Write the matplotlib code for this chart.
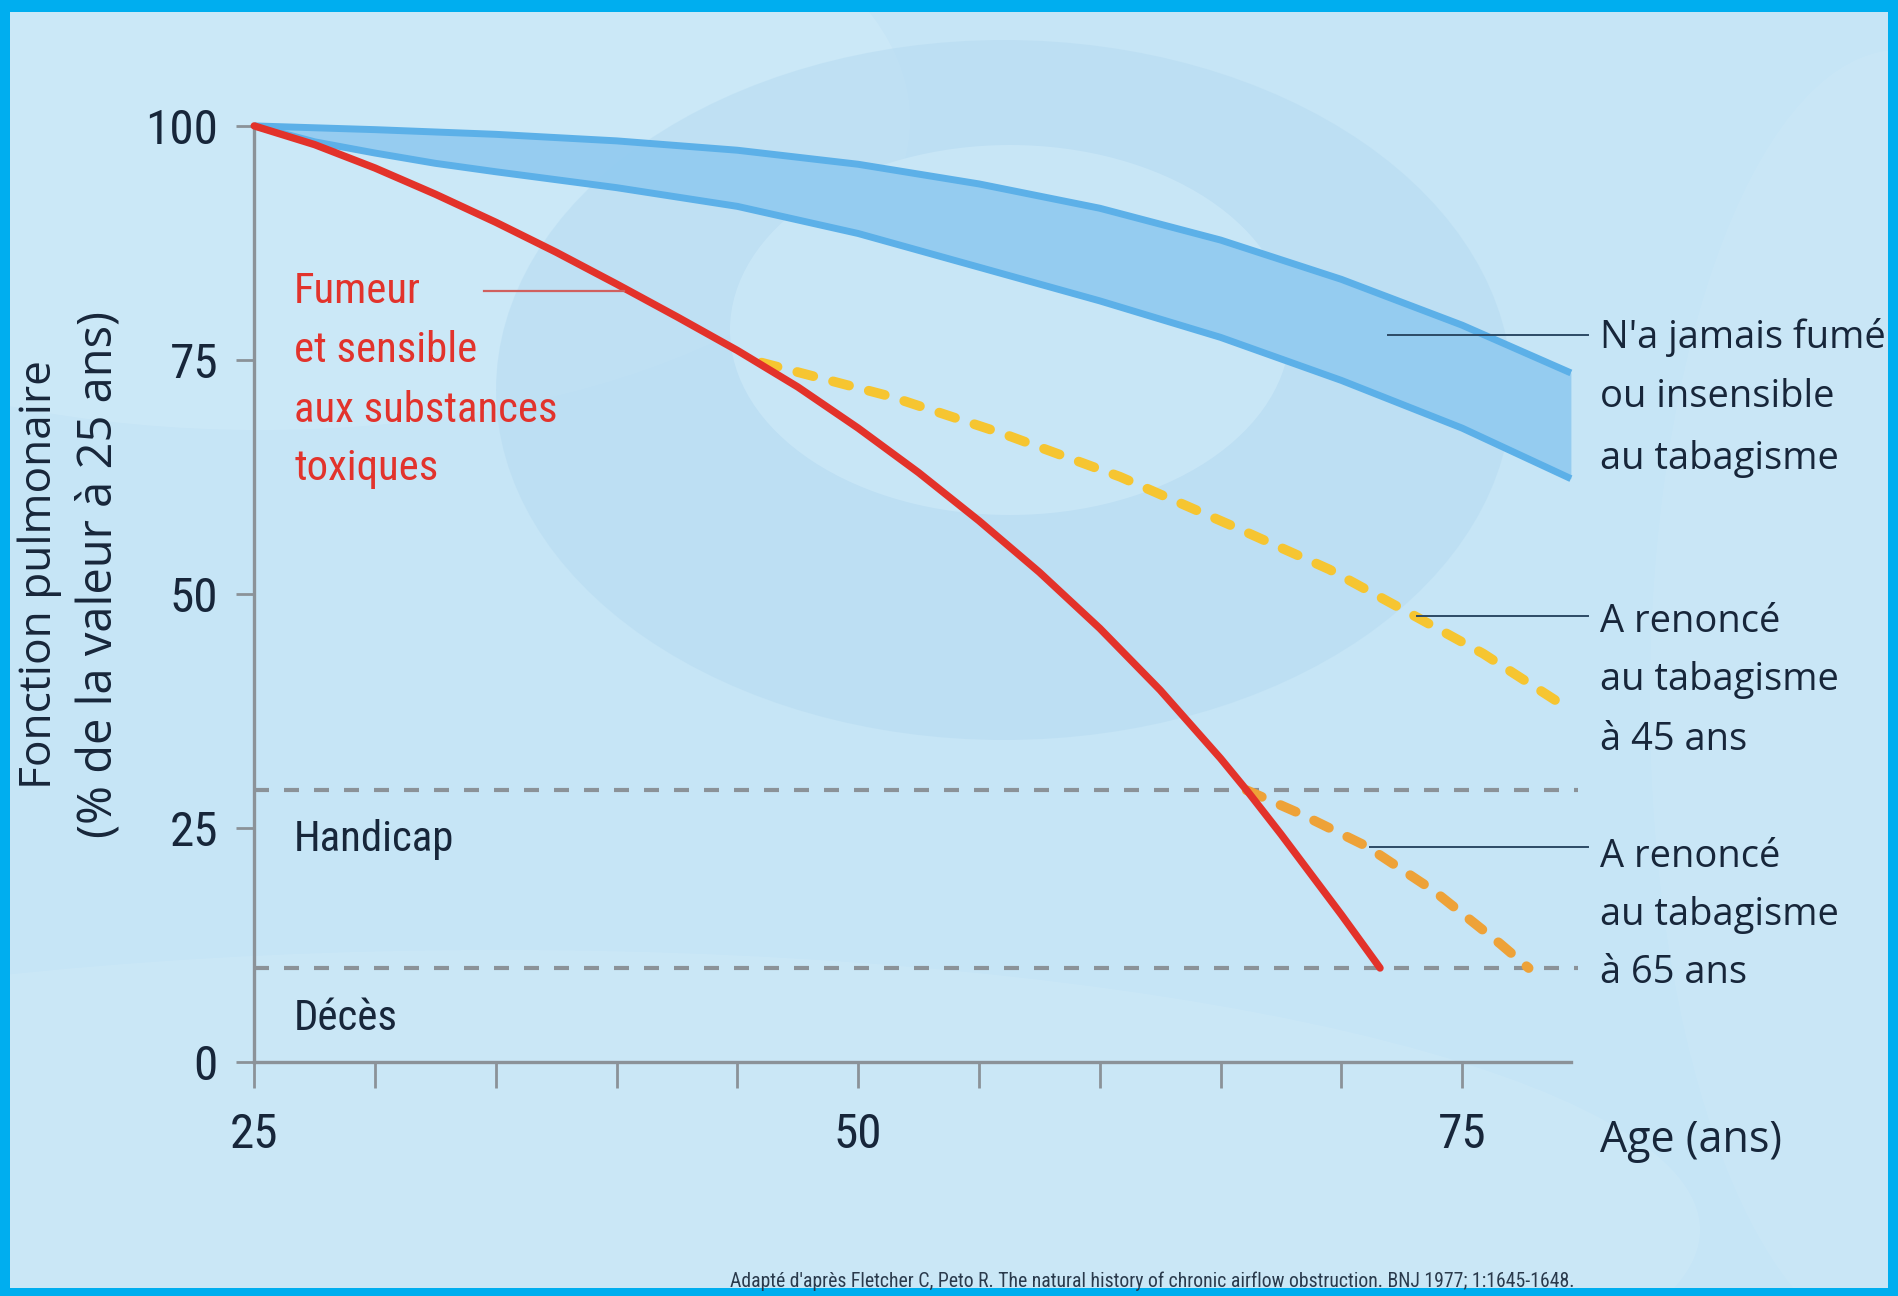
import os
import matplotlib
matplotlib.use('Agg')
import matplotlib.pyplot as plt
from matplotlib import font_manager as fm
from matplotlib.font_manager import FontProperties
from matplotlib.patches import Ellipse, Rectangle

W, H, DPI = 1898, 1296, 100

# ---------------- data ----------------
ages_never = [25, 27.5, 30, 32.5, 35, 40, 45, 50, 55, 60, 65, 70, 75, 79.5]
never_upper = [100, 99.8, 99.6, 99.35, 99.1, 98.4, 97.4, 95.9, 93.8, 91.2, 87.8,
               83.6, 78.7, 73.6]
never_lower = [100, 98.3, 97.1, 96.0, 95.1, 93.4, 91.4, 88.5, 84.9, 81.3, 77.4,
               72.8, 67.7, 62.3]

ages_smoker = [25, 27.5, 30, 32.5, 35, 37.5, 40, 42.5, 45, 47.5, 50, 52.5, 55,
               57.5, 60, 62.5, 65, 66.08, 67.5, 70, 71.6]
smoker = [100, 98.0, 95.5, 92.7, 89.7, 86.5, 83.1, 79.6, 76.0, 72.1, 67.7, 62.95,
          57.8, 52.3, 46.3, 39.7, 32.4, 29.0, 24.3, 15.7, 10]

ages_quit45 = [46.0, 51.32, 56.0, 60.84, 65.53, 69.5, 73.12, 75.87, 79.05]
quit45 = [74.7, 71.1, 67.1, 62.5, 57.2, 52.6, 47.5, 43.6, 38.3]

ages_quit65 = [66.08, 68.29, 71.05, 73.8, 76.57, 77.75]
quit65 = [29.0, 26.5, 23.0, 18.3, 12.6, 10]

handicap_level = 29
death_level = 10

x_ticks = [25, 30, 35, 40, 45, 50, 55, 60, 65, 70, 75]
x_tick_labels = ['25', '', '', '', '', '50', '', '', '', '', '75']
y_ticks = [0, 25, 50, 75, 100]
y_tick_labels = ['0', '25', '50', '75', '100']

label_never = ["N'a jamais fumé", "ou insensible", "au tabagisme"]
label_q45 = ["A renoncé", "au tabagisme", "à 45 ans"]
label_q65 = ["A renoncé", "au tabagisme", "à 65 ans"]
label_smoker = ["Fumeur", "et sensible", "aux substances", "toxiques"]
source = ("Adapté d'après Fletcher C, Peto R. The natural history of chronic "
          "airflow obstruction. BNJ 1977; 1:1645-1648.")


# ---------------- fonts ----------------
def pick_condensed():
    pref = ['liberation sans narrow', 'roboto condensed', 'open sans condensed',
            'noto sans', 'dejavu sans', 'arimo', 'lato', 'inter', 'roboto', 'open sans']
    best = None
    for f in fm.fontManager.ttflist:
        nm = f.name.lower()
        fn = os.path.basename(f.fname).lower()
        st = str(f.stretch).lower()
        cond = ('narrow' in nm or 'condensed' in nm or 'condensed' in st
                or 'narrow' in fn or 'cond' in fn)
        if not cond:
            continue
        if str(f.style).lower() != 'normal' or 'italic' in fn or 'oblique' in fn:
            continue
        if 'mono' in nm or 'mono' in fn or ('serif' in nm and 'sans' not in nm):
            continue
        wt = f.weight
        if isinstance(wt, str):
            wt = fm.weight_dict.get(wt, 400)
        if any(k in fn for k in ('bold', 'black', 'heavy', 'medium')):
            wt = max(wt, 600)
        if any(k in fn for k in ('light', 'thin')):
            wt = min(wt, 300)
        score = abs(wt - 400) / 100.0
        if 'extra' in st or 'ultra' in st or 'extracond' in fn or 'ultracond' in fn:
            score += 3
        if 'semi' in st or 'semicond' in fn:
            score += 0.5
        pi = next((i for i, p in enumerate(pref) if nm.startswith(p)), len(pref))
        score += pi * 0.3
        if best is None or score < best[0]:
            best = (score, f.fname)
    return best[1] if best else None


COND_PATH = pick_condensed()


def fp_cond():
    if COND_PATH:
        return FontProperties(fname=COND_PATH)
    return FontProperties(family=['Roboto', 'DejaVu Sans'])


def fp_hum():
    return FontProperties(family=['Open Sans', 'DejaVu Sans'])


DARK = '#17263a'
GREY = '#8b9298'

fig = plt.figure(figsize=(W / DPI, H / DPI), dpi=DPI, facecolor='#00aeef')

# ---------------- background panel with soft swirl ----------------
bg = fig.add_axes([0, 0, 1, 1], zorder=0)
bg.set_xlim(0, W)
bg.set_ylim(H, 0)
bg.axis('off')
inner = Rectangle((10, 12), W - 20, H - 20, facecolor='#c6e5f6', edgecolor='none')
bg.add_patch(inner)
deco = [
    Ellipse((260, 120), 1300, 620, facecolor='#d3ecf9', alpha=0.45),
    Ellipse((500, 1230), 2400, 560, facecolor='#d2ebf8', alpha=0.4),
    Ellipse((1004, 390), 1016, 700, facecolor='#b5daf1', alpha=0.5),
    Ellipse((1010, 330), 560, 370, facecolor='#cde9f8', alpha=0.7),
    Ellipse((1900, 700), 500, 1300, facecolor='#d0eaf8', alpha=0.4),
]
for p in deco:
    p.set_edgecolor('none')
    bg.add_patch(p)
    p.set_clip_path(inner)

# ---------------- main axes ----------------
left = 254.2 / W
bottom = 1 - 1061.6 / H
width = (1570.9 - 254.2) / W
height = (1061.6 - 125.9) / H
ax = fig.add_axes([left, bottom, width, height], zorder=2)
ax.set_facecolor('none')
ax.set_xlim(25, 79.5)
ax.set_ylim(0, 100)
for s in ['top', 'right']:
    ax.spines[s].set_visible(False)
for s in ['left', 'bottom']:
    ax.spines[s].set_color(GREY)
    ax.spines[s].set_linewidth(2.4)

ax.set_xticks(x_ticks)
ax.set_xticklabels(x_tick_labels)
ax.set_yticks(y_ticks)
ax.set_yticklabels(y_tick_labels)
x_pad, y_pad = 14.0, 8.0
ax.tick_params(axis='x', direction='out', length=19, width=2.0, color=GREY,
               pad=x_pad, labelcolor=DARK)
ax.tick_params(axis='y', direction='out', length=13, width=2.0, color=GREY,
               pad=y_pad, labelcolor=DARK)
tick_labels = list(ax.get_xticklabels()) + list(ax.get_yticklabels())
for lbl in tick_labels:
    lbl.set_fontproperties(fp_cond())
    lbl.set_fontsize(37)

# never smoked band
ax.fill_between(ages_never, never_lower, never_upper, color='#93cbf0', alpha=0.95,
                linewidth=0, zorder=3, clip_on=False)
for series in (never_upper, never_lower):
    ax.plot(ages_never, series, color='#5cb0e8', lw=5.0, solid_capstyle='butt',
            solid_joinstyle='round', zorder=4, clip_on=False)

# threshold lines
for lvl in (handicap_level, death_level):
    ax.plot([25, 79.8], [lvl, lvl], color=GREY, lw=3.0, dashes=(3.6, 3.6),
            zorder=3, clip_on=False)

# curves
ax.plot(ages_quit45, quit45, color='#f6c531', lw=7.0, dashes=(1.7, 2.1),
        dash_capstyle='round', zorder=5, clip_on=False)
ax.plot(ages_quit65, quit65, color='#eea238', lw=7.0, dashes=(1.7, 2.1),
        dash_capstyle='round', zorder=5, clip_on=False)
ax.plot(ages_smoker, smoker, color='#e3322a', lw=5.3, solid_capstyle='round',
        solid_joinstyle='round', zorder=6, clip_on=False)

# leader lines
LEAD = '#2c4a66'
ax.plot([71.93, 80.2], [77.65, 77.65], color=LEAD, lw=1.4, zorder=7, clip_on=False)
ax.plot([73.12, 80.2], [47.6, 47.6], color=LEAD, lw=1.4, zorder=7, clip_on=False)
ax.plot([71.18, 80.2], [22.9, 22.9], color=LEAD, lw=1.4, zorder=7, clip_on=False)
ax.plot([34.5, 40.3], [82.4, 82.4], color='#d0605e', lw=1.6, zorder=7, clip_on=False)


def stack(lines, x, ys, fp, size, color):
    out = []
    for t, y in zip(lines, ys):
        out.append(ax.text(x, y, t, va='center_baseline', ha='left',
                           fontproperties=fp, fontsize=size, color=color))
    return out


right_texts = (stack(label_never, 80.7, [77.9, 71.5, 64.9], fp_hum(), 27, DARK)
               + stack(label_q45, 80.7, [47.5, 41.3, 34.9], fp_hum(), 27, DARK)
               + stack(label_q65, 80.7, [22.4, 16.2, 10.0], fp_hum(), 27, DARK))
red_texts = stack(label_smoker, 26.65, [82.8, 76.5, 70.1, 63.9], fp_cond(), 31,
                  '#e2332c')
zone_texts = [ax.text(26.65, 24.2, 'Handicap', va='center_baseline', ha='left',
                      fontproperties=fp_cond(), fontsize=31, color=DARK),
              ax.text(26.65, 5.1, 'Décès', va='center_baseline', ha='left',
                      fontproperties=fp_cond(), fontsize=31, color=DARK)]

age_text = ax.text(80.7, -7.9, 'Age (ans)', va='center_baseline', ha='left',
                   fontproperties=fp_hum(), fontsize=30, color=DARK)
ylab1 = fig.text(40 / W, 1 - 575 / H, 'Fonction pulmonaire', rotation=90,
                 va='center', ha='center', fontproperties=fp_hum(), fontsize=31,
                 color=DARK)
ylab2 = fig.text(99 / W, 1 - 575 / H, '(% de la valeur à 25 ans)', rotation=90,
                 va='center', ha='center', fontproperties=fp_hum(), fontsize=31,
                 color=DARK)
src = fig.text(730 / W, 1 - 1281 / H, source, va='center', ha='left',
               fontproperties=fp_cond(), fontsize=12.5, color='#2a3a4c')

# ---------------- fit text sizes to the reference widths ----------------
fig.canvas.draw()
R = fig.canvas.get_renderer()


def fit(texts, ref, target, vertical=False):
    bb = ref.get_window_extent(R)
    cur = bb.height if vertical else bb.width
    if cur <= 0:
        return
    k = target / cur
    for t in texts:
        t.set_fontsize(t.get_fontsize() * k)


fit(right_texts, right_texts[0], 286)
fit(red_texts, red_texts[2], 263)
fit(zone_texts, zone_texts[0], 160)
fit([age_text], age_text, 182)
fit([ylab1], ylab1, 428, vertical=True)
fit([ylab2], ylab2, 527, vertical=True)
fit([src], src, 850)
ylab_100 = [l for l in ax.get_yticklabels() if l.get_text() == '100'][0]
fit(tick_labels, ylab_100, 73)

# place tick labels where the reference has them
fig.canvas.draw()
xl = [l for l in ax.get_xticklabels() if l.get_text() == '25'][0]
bb = xl.get_window_extent(R)
cy = 0.5 * (bb.y0 + bb.y1)
x_pad = max(1.0, x_pad + (cy - (H - 1135.5)) * 72.0 / DPI)
bb = ylab_100.get_window_extent(R)
y_pad = max(1.0, y_pad + (bb.x1 - 218.0) * 72.0 / DPI)
ax.tick_params(axis='x', pad=x_pad)
ax.tick_params(axis='y', pad=y_pad)

fig.savefig('out.png', dpi=DPI, facecolor=fig.get_facecolor())
